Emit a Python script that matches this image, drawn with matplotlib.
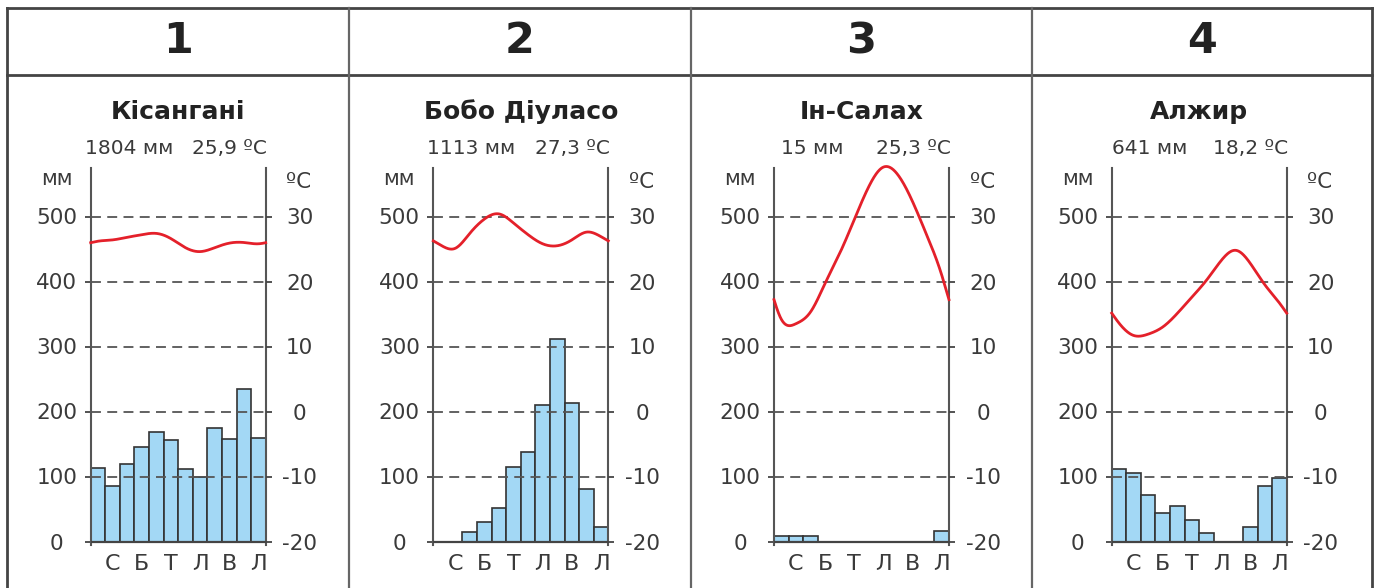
import numpy as np
import matplotlib
matplotlib.use("Agg")
import matplotlib.pyplot as plt
from matplotlib.lines import Line2D

W, H = 1375, 588

panel_numbers = ["1", "2", "3", "4"]
stations = ["Кісангані", "Бобо Діуласо", "Ін-Салах", "Алжир"]
precip_totals = ["1804 мм", "1113 мм", "15 мм", "641 мм"]
temp_means = ["25,9 ºC", "27,3 ºC", "25,3 ºC", "18,2 ºC"]
month_labels = ["С", "Б", "Т", "Л", "В", "Л"]

mm_ticks = [0, 100, 200, 300, 400, 500]
temp_ticks = [-20, -10, 0, 10, 20, 30]

# monthly precipitation, mm
precip_kisangani = [113, 85, 120, 146, 168, 156, 112, 100, 174, 158, 235, 160]
precip_bobo = [0, 0, 14, 30, 52, 114, 138, 210, 311, 213, 81, 22]
precip_insalah = [9, 9, 9, 0, 0, 0, 0, 0, 0, 0, 0, 16]
precip_alger = [112, 106, 72, 44, 54, 33, 13, 0, 0, 22, 86, 97]

# monthly mean temperature, C
temp_kisangani = [26.2, 26.4, 26.8, 27.2, 27.4, 26.6, 25.2, 24.6, 25.2, 25.9, 26.0, 25.8]
temp_bobo = [25.6, 25.1, 27.4, 29.6, 30.4, 29.0, 27.2, 25.8, 25.5, 26.4, 27.6, 26.9]
temp_insalah = [14.2, 13.5, 15.3, 19.7, 24.3, 29.5, 34.6, 37.6, 36.4, 32.3, 27.0, 21.0]
temp_alger = [13.6, 11.7, 11.9, 13.0, 15.1, 17.6, 20.2, 23.2, 24.8, 22.8, 19.5, 16.7]

precip = [precip_kisangani, precip_bobo, precip_insalah, precip_alger]
temps = [temp_kisangani, temp_bobo, temp_insalah, temp_alger]

axes_left_px = [90.7, 433.3, 774.0, 1111.7]
axes_w_px = 175.0
MM_MIN, MM_MAX = -6, 575
Y0_PX, PX_PER_MM = 541.5, 0.65

TXT = "#3a3a3a"
GRID = "#555555"
BAR = "#a3d8f5"
RED = "#e4202a"


def smooth_periodic(values, n=400):
    # periodic cubic spline through monthly values (bar centres)
    y = np.asarray(values, dtype=float)
    k = len(y)
    A = np.zeros((k, k))
    rhs = np.zeros(k)
    for i in range(k):
        A[i, i] = 4
        A[i, (i - 1) % k] = 1
        A[i, (i + 1) % k] = 1
        rhs[i] = 6 * (y[(i + 1) % k] - 2 * y[i] + y[(i - 1) % k])
    M = np.linalg.solve(A, rhs)
    xs = np.linspace(-0.5, k - 0.5, n)
    fl = np.floor(xs).astype(int)
    t = xs - fl
    i0 = fl % k
    i1 = (fl + 1) % k
    ys = ((1 - t) * y[i0] + t * y[i1]
          + ((1 - t) ** 3 - (1 - t)) * M[i0] / 6
          + (t ** 3 - t) * M[i1] / 6)
    return xs, ys


def fx(px):
    return px / W


def fy(py):
    return 1 - py / H


def draw_table(fig):
    kw = dict(color="#444444", lw=2.0, transform=fig.transFigure)
    fig.add_artist(Line2D([fx(7), fx(1372)], [fy(8), fy(8)], **kw))
    fig.add_artist(Line2D([fx(7), fx(7)], [fy(8), fy(600)], **kw))
    fig.add_artist(Line2D([fx(1372), fx(1372)], [fy(8), fy(600)], **kw))
    fig.add_artist(Line2D([fx(7), fx(1372)], [fy(75), fy(75)], **kw))
    for x in [349, 691, 1032]:
        fig.add_artist(Line2D([fx(x), fx(x)], [fy(8), fy(600)],
                              color="#666666", lw=1.6, transform=fig.transFigure))
    col_edges = [7, 349, 691, 1032, 1372]
    for i, num in enumerate(panel_numbers):
        cx = (col_edges[i] + col_edges[i + 1]) / 2
        fig.text(fx(cx), fy(41), num, ha="center", va="center",
                 fontsize=31, fontweight="bold", color="#222222")


def draw_panel(fig, i):
    bottom_px = Y0_PX - MM_MIN * PX_PER_MM
    top_px = Y0_PX - MM_MAX * PX_PER_MM
    ax = fig.add_axes([fx(axes_left_px[i]), fy(bottom_px),
                       axes_w_px / W, (bottom_px - top_px) / H])
    ax.set_xlim(-0.5, 11.5)
    ax.set_ylim(MM_MIN, MM_MAX)
    ax.set_facecolor("none")

    months = np.arange(12)
    ax.bar(months, precip[i], width=1.0, color=BAR, edgecolor="#333333",
           linewidth=1.2, zorder=2)

    for v in mm_ticks[1:]:
        ax.axhline(v, color=GRID, lw=1.3, ls=(0, (5.5, 3.5)), zorder=3)
    ax.axhline(0, color="#444444", lw=1.6, zorder=4)

    for side in ["top", "bottom"]:
        ax.spines[side].set_visible(False)
    for side in ["left", "right"]:
        ax.spines[side].set_color("#555555")
        ax.spines[side].set_linewidth(1.5)

    ax.set_yticks(mm_ticks)
    ax.set_yticklabels([str(v) for v in mm_ticks])
    ax.tick_params(axis="y", direction="out", length=4.5, width=1.3,
                   color="#444444", pad=20, labelsize=15.5, labelcolor=TXT)
    for lab in ax.get_yticklabels():
        lab.set_ha("center")

    ax.set_xticks(months[1::2])
    ax.set_xticklabels(month_labels)
    ax.tick_params(axis="x", length=0, pad=6, labelsize=16, labelcolor=TXT)

    ax2 = ax.twinx()
    ax2.set_ylim(MM_MIN / 10 - 20, MM_MAX / 10 - 20)
    for side in ["top", "bottom", "left", "right"]:
        ax2.spines[side].set_visible(False)
    ax2.set_yticks(temp_ticks)
    ax2.set_yticklabels([str(v) for v in temp_ticks])
    ax2.tick_params(axis="y", direction="out", length=4.5, width=1.3,
                    color="#444444", pad=20, labelsize=15.5, labelcolor=TXT)
    for lab in ax2.get_yticklabels():
        lab.set_ha("center")

    xs, ys = smooth_periodic(temps[i])
    ax2.plot(xs, ys, color=RED, lw=2.0, clip_on=False, zorder=5)

    ax.text(-0.195, 548, "мм", transform=ax.get_yaxis_transform(),
            ha="center", va="baseline", fontsize=15, color=TXT)
    ax.text(1.19, 544, "ºC", transform=ax.get_yaxis_transform(),
            ha="center", va="baseline", fontsize=15.5, color=TXT)

    cx = axes_left_px[i] + axes_w_px / 2
    fig.text(fx(cx), fy(112), stations[i], ha="center", va="center",
             fontsize=18, fontweight="bold", color="#222222")
    fig.text(fx(axes_left_px[i] + 38), fy(148), precip_totals[i],
             ha="center", va="center", fontsize=14.5, color=TXT)
    fig.text(fx(axes_left_px[i] + axes_w_px - 36), fy(148), temp_means[i],
             ha="center", va="center", fontsize=14.5, color=TXT)


def main():
    fig = plt.figure(figsize=(W / 100, H / 100), dpi=100)
    fig.patch.set_facecolor("white")
    draw_table(fig)
    for i in range(4):
        draw_panel(fig, i)
    fig.savefig("out.png", dpi=100)
    plt.close(fig)


if __name__ == "__main__":
    main()
